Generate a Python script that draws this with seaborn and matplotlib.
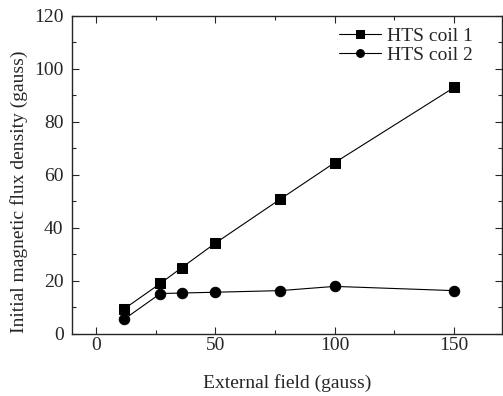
import pandas as pd
import matplotlib.pyplot as plt
import seaborn as sns
from matplotlib.ticker import MultipleLocator

# External field (gauss) and initial flux density (gauss) for the two coils
field = [12, 27, 36, 50, 77, 100, 150]
coil1 = [9.5, 19.0, 25.0, 34.2, 50.7, 64.6, 93.0]
coil2 = [5.6, 15.2, 15.4, 15.7, 16.3, 17.9, 16.3]

df = pd.DataFrame({
    "field": field * 2,
    "flux": coil1 + coil2,
    "coil": ["HTS coil 1"] * len(field) + ["HTS coil 2"] * len(field),
})

sns.set_style("ticks")
plt.rcParams["font.family"] = ["Liberation Serif", "DejaVu Serif"]

fig = plt.figure(figsize=(5.03, 3.96), dpi=100)
ax = fig.add_axes([0.143, 0.157, 0.855, 0.803])

sns.lineplot(
    data=df, x="field", y="flux", hue="coil", style="coil",
    markers={"HTS coil 1": "s", "HTS coil 2": "o"}, dashes=False,
    palette={"HTS coil 1": "black", "HTS coil 2": "black"},
    markersize=7.5, linewidth=0.8, markeredgecolor="black", ax=ax,
)

ax.set_xlim(-10, 170)
ax.set_ylim(0, 120)
ax.xaxis.set_major_locator(MultipleLocator(50))
ax.xaxis.set_minor_locator(MultipleLocator(25))
ax.yaxis.set_major_locator(MultipleLocator(20))
ax.yaxis.set_minor_locator(MultipleLocator(10))
ax.tick_params(which="both", direction="in", top=True, right=True, labelsize=14, width=0.8)
ax.tick_params(which="major", length=5)
ax.tick_params(which="minor", length=3)
ax.tick_params(axis="x", pad=2)
ax.tick_params(axis="y", pad=6)
for s in ax.spines.values():
    s.set_linewidth(1.0)

ax.set_xlabel("External field (gauss)", fontsize=14, labelpad=15)
ax.set_ylabel("Initial magnetic flux density (gauss)", fontsize=14)
ax.yaxis.set_label_coords(-0.103, 0.447)

leg = ax.legend(loc="upper right", bbox_to_anchor=(0.96, 1.0), frameon=False, fontsize=14,
                title=None, markerscale=0.75, handlelength=2.2, handletextpad=0.3,
                borderaxespad=0.4, labelspacing=0.05, borderpad=0.2)

fig.savefig("out.png", dpi=100)
